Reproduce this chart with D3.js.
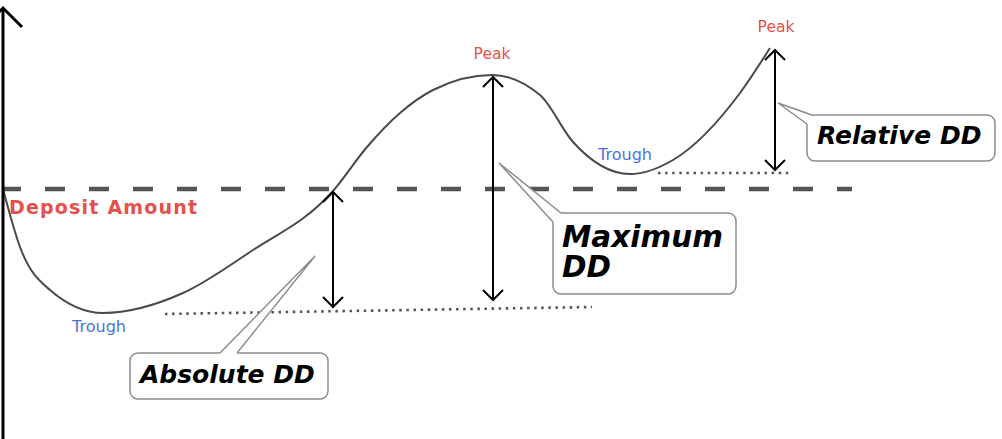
<!DOCTYPE html>
<html>
<head>
<meta charset="utf-8">
<script src="https://cdn.jsdelivr.net/npm/d3@7"></script>
<style>
  html, body { margin: 0; padding: 0; background: #fff; }
  svg { display: block; }
</style>
</head>
<body>
<svg id="chart" width="1002" height="439"></svg>
<script>
// equity curve (time index vs account balance, deposit = 100)
var timeX  = [0, 1.7, 4.7, 10, 18, 24.7, 33, 36.4, 39.7, 43, 48.9, 53.7, 57, 62.7, 67, 73.7, 76.7];
var equity = [100, 71, 49.5, 38, 48, 68.5, 99, 121, 138, 149.5, 157, 147, 123.5, 107.5, 114.5, 148, 170.5];
var depositLevel = 100;
var depositEnd = 84.9;

// drawdown arrows
var ddNames  = ["Absolute DD", "Maximum DD", "Relative DD"];
var ddX      = [33, 49, 77.2];
var ddTop    = [98.5, 156, 169.5];
var ddBottom = [41, 44.5, 109.5];

// dotted floor lines
var floorX0 = [16.2, 65.5];
var floorX1 = [58.9, 79];
var floorY0 = [37.5, 108];
var floorY1 = [41, 108];

// peak / trough labels (index into curve)
var peakIdx   = [10, 16];
var troughIdx = [3, 13];

var svg = d3.select('#chart');
var width = 1002, height = 439;

var x = d3.scaleLinear().domain([0, 100]).range([3, 1003]);
var y = d3.scaleLinear().domain([0, 200]).range([389, -11]);

var red = '#e5514b';
var blue = '#4a72e0';
var font = 'DejaVu Sans, Verdana, sans-serif';

// deposit dashed line
svg.append('line')
  .attr('x1', x(0)).attr('x2', x(depositEnd))
  .attr('y1', y(depositLevel)).attr('y2', y(depositLevel))
  .attr('stroke', '#555')
  .attr('stroke-width', 4.5)
  .attr('stroke-dasharray', '20 24')
  .attr('stroke-dashoffset', 2);

// floor dotted lines
floorX0.forEach(function(d, i) {
  svg.append('line')
    .attr('x1', x(floorX0[i])).attr('x2', x(floorX1[i]))
    .attr('y1', y(floorY0[i])).attr('y2', y(floorY1[i]))
    .attr('stroke', '#555')
    .attr('stroke-width', 2.6)
    .attr('stroke-dasharray', '2.5 4.6');
});

// equity curve
var pts = timeX.map(function(d, i) { return [d, equity[i]]; });
var line = d3.line()
  .x(function(d) { return x(d[0]); })
  .y(function(d) { return y(d[1]); })
  .curve(d3.curveMonotoneX);

svg.append('path')
  .datum(pts)
  .attr('d', line)
  .attr('fill', 'none')
  .attr('stroke', '#4a4a4a')
  .attr('stroke-width', 2);

// y axis with arrow at top
svg.append('line')
  .attr('x1', 3).attr('x2', 3)
  .attr('y1', 8).attr('y2', height)
  .attr('stroke', '#000').attr('stroke-width', 3);
svg.append('path')
  .attr('d', 'M-16,27L3,8L22,27')
  .attr('fill', 'none')
  .attr('stroke', '#000').attr('stroke-width', 3);

// double arrows
var head = 10;
ddX.forEach(function(d, i) {
  var px = x(ddX[i]), y1 = y(ddTop[i]), y2 = y(ddBottom[i]);
  var g = svg.append('g')
    .attr('fill', 'none')
    .attr('stroke', '#000')
    .attr('stroke-width', 2);
  g.append('line').attr('x1', px).attr('x2', px).attr('y1', y1).attr('y2', y2);
  g.append('path').attr('d', 'M' + (px - head) + ',' + (y1 + head) + 'L' + px + ',' + y1 + 'L' + (px + head) + ',' + (y1 + head));
  g.append('path').attr('d', 'M' + (px - head) + ',' + (y2 - head) + 'L' + px + ',' + y2 + 'L' + (px + head) + ',' + (y2 - head));
});

// labels
svg.append('text')
  .attr('x', 9).attr('y', 214)
  .attr('font-family', font)
  .attr('font-weight', 'bold')
  .attr('font-size', 19)
  .attr('letter-spacing', 1.2)
  .attr('fill', red)
  .text('Deposit Amount');

var peakDx = [0, 6];
peakIdx.forEach(function(d, i) {
  svg.append('text')
    .attr('x', x(timeX[d]) + peakDx[i])
    .attr('y', y(equity[d]) - 16)
    .attr('text-anchor', 'middle')
    .attr('font-family', font)
    .attr('font-size', 15.5)
    .attr('fill', red)
    .text('Peak');
});

var troughDx = [-4, -5];
var troughDy = [19, -14];
troughIdx.forEach(function(d, i) {
  svg.append('text')
    .attr('x', x(timeX[d]) + troughDx[i])
    .attr('y', y(equity[d]) + troughDy[i])
    .attr('text-anchor', 'middle')
    .attr('font-family', font)
    .attr('font-size', 16)
    .attr('fill', blue)
    .text('Trough');
});

// callout boxes
var callouts = [
  { box: [130, 353, 198, 46], tip: [315, 256], a: [220, 353], b: [237, 353], cover: [[220, 355], [237, 355]],
    lines: ['Absolute DD'], tx: 140, ty: [383], fs: 25 },
  { box: [553, 213, 183, 81], tip: [499, 163], a: [561, 213], b: [553, 222], cover: [[561, 222]],
    lines: ['Maximum', 'DD'], tx: 562, ty: [247, 277], fs: 29.5 },
  { box: [807, 115, 188, 46], tip: [778, 103], a: [812, 115], b: [807, 124], cover: [[812, 124]],
    lines: ['Relative DD'], tx: 817, ty: [144], fs: 25 }
];

callouts.forEach(function(c) {
  svg.append('rect')
    .attr('x', c.box[0]).attr('y', c.box[1])
    .attr('width', c.box[2]).attr('height', c.box[3])
    .attr('rx', 8).attr('ry', 8)
    .attr('fill', '#fff')
    .attr('stroke', '#8c8c8c')
    .attr('stroke-width', 1.5);
  var poly = [c.a, c.tip, c.b].concat(c.cover.slice().reverse());
  svg.append('path')
    .attr('d', 'M' + poly.map(function(p) { return p.join(','); }).join('L') + 'Z')
    .attr('fill', '#fff')
    .attr('stroke', 'none');
  svg.append('path')
    .attr('d', 'M' + [c.a, c.tip, c.b].map(function(p) { return p.join(','); }).join('L'))
    .attr('fill', 'none')
    .attr('stroke', '#8c8c8c')
    .attr('stroke-width', 1.5);
  c.lines.forEach(function(t, j) {
    svg.append('text')
      .attr('x', c.tx).attr('y', c.ty[j])
      .attr('font-family', font)
      .attr('font-weight', 'bold')
      .attr('font-style', 'italic')
      .attr('font-size', c.fs)
      .attr('fill', '#000')
      .text(t);
  });
});
</script>
</body>
</html>
